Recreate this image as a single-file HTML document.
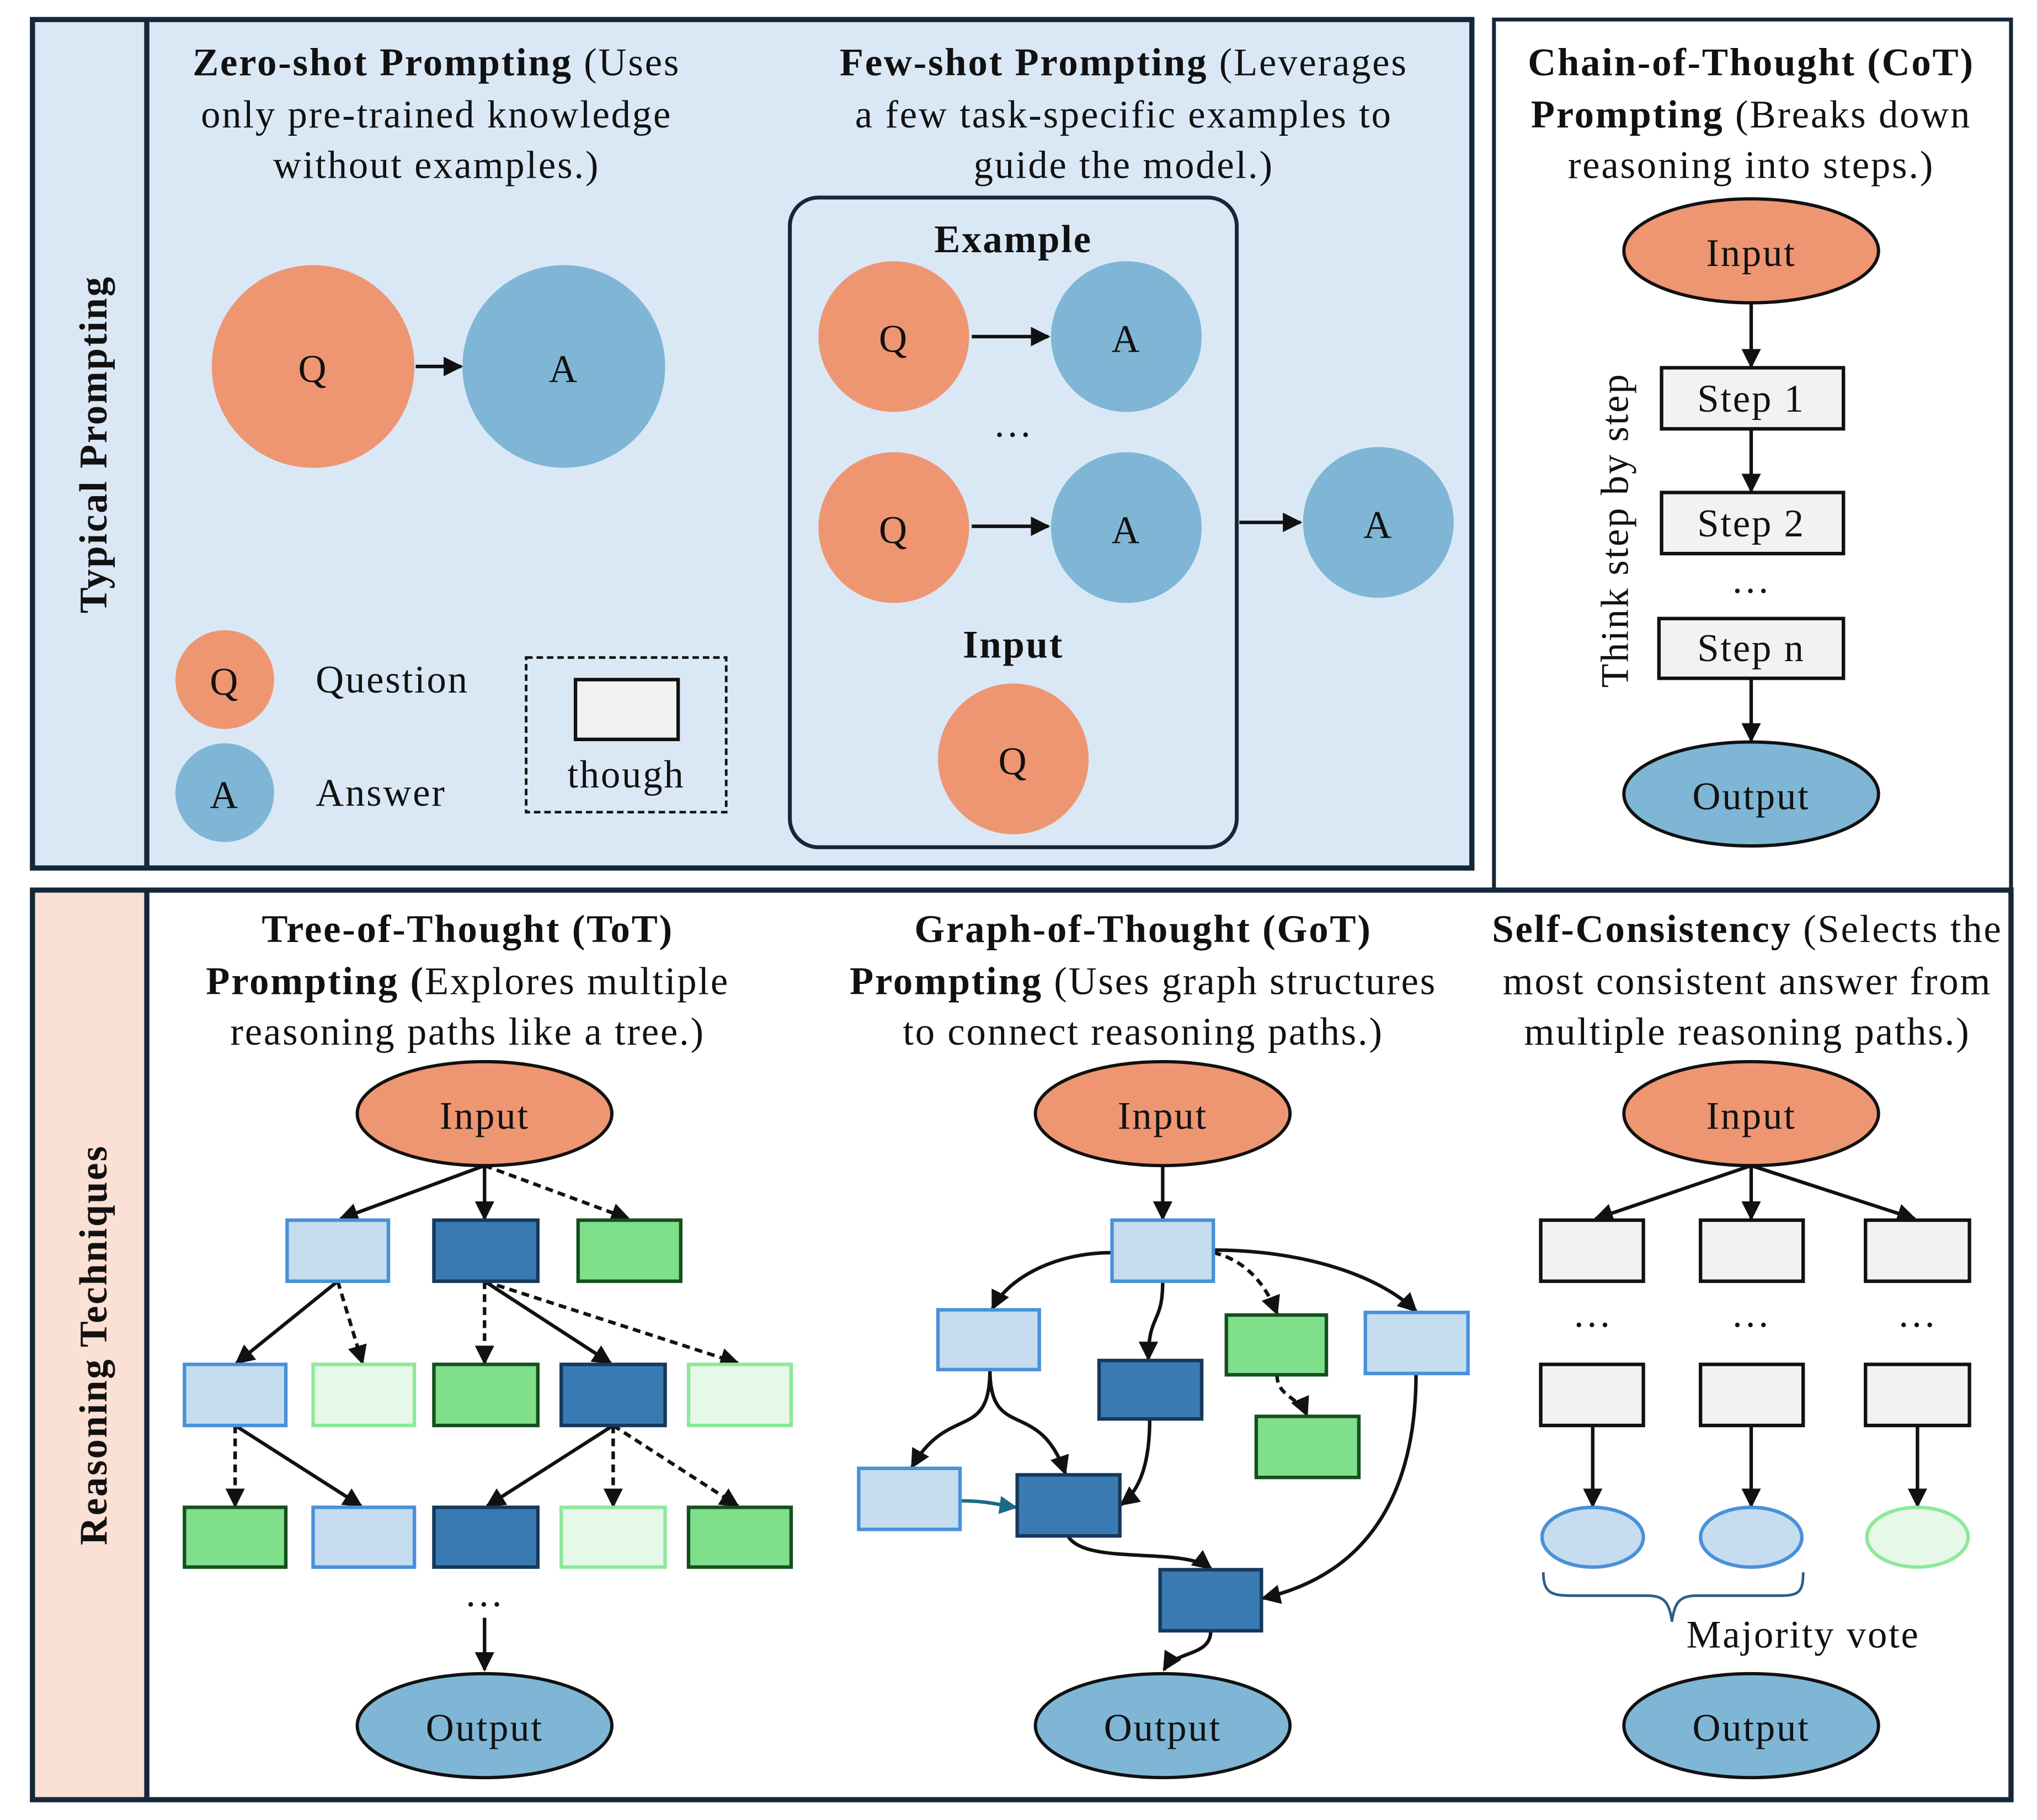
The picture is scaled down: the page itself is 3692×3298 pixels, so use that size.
<!DOCTYPE html>
<html><head><meta charset="utf-8"><style>
html,body{margin:0;padding:0;background:#fff}
svg{display:block}
text{font-family:"Liberation Serif",serif;fill:#111;letter-spacing:1.2px}
.t{font-size:30px;text-anchor:middle}
.b{font-weight:bold}
.n{font-size:30px;text-anchor:middle;dominant-baseline:central}
.e{stroke:#111;stroke-width:2.7;fill:none}
.d{stroke-dasharray:6,4}
.lb{fill:#c5ddef;stroke:#4a90d9;stroke-width:2.7}
.dk{fill:#3a7ab2;stroke:#15395c;stroke-width:2.7}
.gr{fill:#80df8a;stroke:#14501e;stroke-width:2.7}
.vg{fill:#e6f8e8;stroke:#8ee89a;stroke-width:2.7}
.gy{fill:#f2f2f2;stroke:#111;stroke-width:2.7}
</style></head><body>
<svg width="3692" height="3298" viewBox="0 0 1568 1400.6" xmlns="http://www.w3.org/2000/svg">
<defs>
<marker id="at" viewBox="0 0 10 10" refX="9" refY="5" markerWidth="14" markerHeight="14" orient="auto" markerUnits="userSpaceOnUse"><path d="M0,0 L10,5 L0,10 z" fill="#1b6a87"/></marker>
<marker id="k" viewBox="0 0 10 10" refX="9" refY="5" markerWidth="15" markerHeight="15" orient="auto" markerUnits="userSpaceOnUse"><path d="M0,0 L10,5 L0,10 z" fill="#111"/></marker>
</defs>
<rect width="1568" height="1401" fill="#fff"/>
<rect x="25" y="15" width="1108" height="653" fill="#dae8f6" stroke="#15283a" stroke-width="4"/>
<line x1="113" y1="15" x2="113" y2="668" stroke="#15283a" stroke-width="4"/>
<polyline points="25,685 1150,685 1150,15 1548,15 1548,685" fill="none" stroke="#15283a" stroke-width="3"/>
<rect x="25" y="685" width="1523" height="700" fill="#fff" stroke="#15283a" stroke-width="4"/>
<rect x="27" y="687" width="86" height="696" fill="#fbe0d5"/>
<line x1="113" y1="685" x2="113" y2="1385" stroke="#15283a" stroke-width="4"/>
<text class="t b" transform="translate(82,342) rotate(-90)">Typical Prompting</text>
<text class="t b" transform="translate(82,1035) rotate(-90)">Reasoning Techniques</text>

<text class="t"><tspan x="336" y="58"><tspan class="b">Zero-shot Prompting</tspan> (Uses</tspan><tspan x="336" y="98">only pre-trained knowledge</tspan><tspan x="336" y="137">without examples.)</tspan></text>
<circle cx="241" cy="282" r="78" fill="#ee9672"/><text class="n" x="241" y="284">Q</text>
<circle cx="434" cy="282" r="78" fill="#7fb6d5"/><text class="n" x="434" y="284">A</text>
<line class="e" x1="320" y1="282" x2="355" y2="282" marker-end="url(#k)"/>
<text class="t"><tspan x="865" y="58"><tspan class="b">Few-shot Prompting</tspan> (Leverages</tspan><tspan x="865" y="98">a few task-specific examples to</tspan><tspan x="865" y="137">guide the model.)</tspan></text>
<rect x="608" y="152" width="344" height="500" rx="22" fill="none" stroke="#15283a" stroke-width="3"/>
<text class="t b" x="780" y="194">Example</text>
<circle cx="688" cy="259" r="58" fill="#ee9672"/><text class="n" x="688" y="261">Q</text>
<circle cx="867" cy="259" r="58" fill="#7fb6d5"/><text class="n" x="867" y="261">A</text>
<line class="e" x1="748" y1="259" x2="807" y2="259" marker-end="url(#k)"/>
<text class="t" x="780" y="336">…</text>
<circle cx="688" cy="406" r="58" fill="#ee9672"/><text class="n" x="688" y="408">Q</text>
<circle cx="867" cy="406" r="58" fill="#7fb6d5"/><text class="n" x="867" y="408">A</text>
<line class="e" x1="748" y1="405" x2="807" y2="405" marker-end="url(#k)"/>
<circle cx="1061" cy="402" r="58" fill="#7fb6d5"/><text class="n" x="1061" y="404">A</text>
<line class="e" x1="954" y1="402" x2="1001" y2="402" marker-end="url(#k)"/>
<text class="t b" x="780" y="506">Input</text>
<circle cx="780" cy="584" r="58" fill="#ee9672"/><text class="n" x="780" y="586">Q</text>
<circle cx="173" cy="523" r="38" fill="#ee9672"/><text class="n" x="173" y="525">Q</text>
<text x="243" y="533" style="font-size:30px">Question</text>
<circle cx="173" cy="610" r="38" fill="#7fb6d5"/><text class="n" x="173" y="612">A</text>
<text x="243" y="620" style="font-size:30px">Answer</text>
<rect x="405" y="506" width="154" height="119" fill="none" stroke="#111" stroke-width="2" stroke-dasharray="5,3"/>
<rect x="443" y="523" width="79" height="46" class="gy"/>
<text class="t" x="482" y="606">though</text>

<text class="t"><tspan x="1348" y="58" class="b">Chain-of-Thought (CoT)</tspan><tspan x="1348" y="98"><tspan class="b">Prompting</tspan> (Breaks down</tspan><tspan x="1348" y="137">reasoning into steps.)</tspan></text>
<ellipse cx="1348" cy="193" rx="98" ry="40" fill="#ee9672" stroke="#111" stroke-width="2.5"/><text class="n" x="1348" y="195">Input</text>
<line class="e" x1="1348" y1="233" x2="1348" y2="282" marker-end="url(#k)"/>
<rect x="1279" y="283" width="140" height="47" class="gy"/><text class="n" x="1348" y="307">Step 1</text>
<line class="e" x1="1348" y1="330" x2="1348" y2="378" marker-end="url(#k)"/>
<rect x="1279" y="379" width="140" height="47" class="gy"/><text class="n" x="1348" y="403">Step 2</text>
<text class="t" x="1348" y="456">…</text>
<rect x="1277" y="476" width="142" height="46" class="gy"/><text class="n" x="1348" y="499">Step n</text>
<line class="e" x1="1348" y1="522" x2="1348" y2="570" marker-end="url(#k)"/>
<ellipse cx="1348" cy="611" rx="98" ry="40" fill="#7fb6d5" stroke="#111" stroke-width="2.5"/><text class="n" x="1348" y="613">Output</text>
<text class="t" transform="translate(1253,408) rotate(-90)">Think step by step</text>

<text class="t"><tspan x="360" y="725" class="b">Tree-of-Thought (ToT)</tspan><tspan x="360" y="765"><tspan class="b">Prompting (</tspan>Explores multiple</tspan><tspan x="360" y="804">reasoning paths like a tree.)</tspan></text>
<ellipse cx="373" cy="857" rx="98" ry="40" fill="#ee9672" stroke="#111" stroke-width="2.5"/><text class="n" x="373" y="859">Input</text>
<line class="e" x1="373" y1="897" x2="262" y2="938" marker-end="url(#k)"/>
<line class="e" x1="373" y1="897" x2="373" y2="938" marker-end="url(#k)"/>
<line class="e d" x1="373" y1="897" x2="484" y2="938" marker-end="url(#k)"/>
<line class="e" x1="260" y1="986" x2="182" y2="1049" marker-end="url(#k)"/>
<line class="e d" x1="260" y1="986" x2="279" y2="1049" marker-end="url(#k)"/>
<line class="e d" x1="373" y1="986" x2="373" y2="1049" marker-end="url(#k)"/>
<line class="e" x1="373" y1="986" x2="470" y2="1049" marker-end="url(#k)"/>
<line class="e d" x1="373" y1="986" x2="568" y2="1049" marker-end="url(#k)"/>
<line class="e d" x1="181" y1="1097" x2="181" y2="1159" marker-end="url(#k)"/>
<line class="e" x1="181" y1="1097" x2="278" y2="1159" marker-end="url(#k)"/>
<line class="e" x1="472" y1="1097" x2="375" y2="1159" marker-end="url(#k)"/>
<line class="e d" x1="472" y1="1097" x2="472" y2="1159" marker-end="url(#k)"/>
<line class="e d" x1="472" y1="1097" x2="568" y2="1159" marker-end="url(#k)"/>
<rect x="221" y="939" width="78" height="47" class="lb"/><rect x="334" y="939" width="80" height="47" class="dk"/><rect x="445" y="939" width="79" height="47" class="gr"/>
<rect x="142" y="1050" width="78" height="47" class="lb"/><rect x="241" y="1050" width="78" height="47" class="vg"/><rect x="334" y="1050" width="80" height="47" class="gr"/><rect x="432" y="1050" width="80" height="47" class="dk"/><rect x="530" y="1050" width="79" height="47" class="vg"/>
<rect x="142" y="1160" width="78" height="46" class="gr"/><rect x="241" y="1160" width="78" height="46" class="lb"/><rect x="334" y="1160" width="80" height="46" class="dk"/><rect x="432" y="1160" width="80" height="46" class="vg"/><rect x="530" y="1160" width="79" height="46" class="gr"/>
<text class="t" x="373" y="1236">…</text>
<line class="e" x1="373" y1="1245" x2="373" y2="1285" marker-end="url(#k)"/>
<ellipse cx="373" cy="1328" rx="98" ry="40" fill="#7fb6d5" stroke="#111" stroke-width="2.5"/><text class="n" x="373" y="1330">Output</text>

<text class="t"><tspan x="880" y="725" class="b">Graph-of-Thought (GoT)</tspan><tspan x="880" y="765"><tspan class="b">Prompting</tspan> (Uses graph structures</tspan><tspan x="880" y="804">to connect reasoning paths.)</tspan></text>
<ellipse cx="895" cy="857" rx="98" ry="40" fill="#ee9672" stroke="#111" stroke-width="2.5"/><text class="n" x="895" y="859">Input</text>
<line class="e" x1="895" y1="897" x2="895" y2="938" marker-end="url(#k)"/>
<path class="e" d="M856,964 C810,964 775,985 764,1007" marker-end="url(#k)"/>
<path class="e" d="M895,986 C895,1020 884,1010 884,1046" marker-end="url(#k)"/>
<path class="e d" d="M934,964 C960,970 975,990 983,1011" marker-end="url(#k)"/>
<path class="e" d="M934,962 C1000,962 1060,980 1090,1009" marker-end="url(#k)"/>
<path class="e d" d="M983,1058 C983,1075 1000,1075 1006,1089" marker-end="url(#k)"/>
<path class="e" d="M762,1054 C762,1110 730,1080 702,1129" marker-end="url(#k)"/>
<path class="e" d="M762,1054 C762,1110 800,1075 820,1134" marker-end="url(#k)"/>
<path class="e" d="M885,1092 C885,1120 880,1145 863,1158" marker-end="url(#k)"/>
<path d="M739,1155 C760,1155 768,1158 782,1160" stroke="#1b6a87" stroke-width="2.7" fill="none" marker-end="url(#at)"/>
<path class="e" d="M822,1182 C835,1205 910,1190 932,1207" marker-end="url(#k)"/>
<path class="e" d="M1090,1057 C1090,1140 1060,1210 972,1230" marker-end="url(#k)"/>
<path class="e" d="M932,1255 C932,1275 905,1270 896,1285" marker-end="url(#k)"/>
<rect x="856" y="939" width="78" height="47" class="lb"/>
<rect x="722" y="1008" width="78" height="46" class="lb"/>
<rect x="846" y="1047" width="79" height="45" class="dk"/>
<rect x="944" y="1012" width="77" height="46" class="gr"/>
<rect x="1051" y="1010" width="79" height="47" class="lb"/>
<rect x="967" y="1090" width="79" height="47" class="gr"/>
<rect x="661" y="1130" width="78" height="47" class="lb"/>
<rect x="783" y="1135" width="79" height="47" class="dk"/>
<rect x="893" y="1208" width="78" height="47" class="dk"/>
<ellipse cx="895" cy="1328" rx="98" ry="40" fill="#7fb6d5" stroke="#111" stroke-width="2.5"/><text class="n" x="895" y="1330">Output</text>

<text class="t"><tspan x="1345" y="725"><tspan class="b">Self-Consistency</tspan> (Selects the</tspan><tspan x="1345" y="765">most consistent answer from</tspan><tspan x="1345" y="804">multiple reasoning paths.)</tspan></text>
<ellipse cx="1348" cy="857" rx="98" ry="40" fill="#ee9672" stroke="#111" stroke-width="2.5"/><text class="n" x="1348" y="859">Input</text>
<line class="e" x1="1348" y1="897" x2="1228" y2="938" marker-end="url(#k)"/>
<line class="e" x1="1348" y1="897" x2="1348" y2="938" marker-end="url(#k)"/>
<line class="e" x1="1348" y1="897" x2="1474" y2="938" marker-end="url(#k)"/>
<rect x="1186" y="939" width="79" height="47" class="gy"/><rect x="1309" y="939" width="79" height="47" class="gy"/><rect x="1436" y="939" width="80" height="47" class="gy"/>
<text class="t" x="1226" y="1021">…</text><text class="t" x="1348" y="1021">…</text><text class="t" x="1476" y="1021">…</text>
<rect x="1186" y="1050" width="79" height="47" class="gy"/><rect x="1309" y="1050" width="79" height="47" class="gy"/><rect x="1436" y="1050" width="80" height="47" class="gy"/>
<line class="e" x1="1226" y1="1097" x2="1226" y2="1159" marker-end="url(#k)"/>
<line class="e" x1="1348" y1="1097" x2="1348" y2="1159" marker-end="url(#k)"/>
<line class="e" x1="1476" y1="1097" x2="1476" y2="1159" marker-end="url(#k)"/>
<ellipse cx="1226" cy="1183" rx="39" ry="23" class="lb"/>
<ellipse cx="1348" cy="1183" rx="39" ry="23" class="lb"/>
<ellipse cx="1476" cy="1183" rx="39" ry="23" class="vg"/>
<path d="M1188,1210 C1188,1228 1196,1228 1215,1228 L1268,1228 C1280,1228 1285,1232 1287,1248 C1289,1232 1294,1228 1306,1228 L1370,1228 C1385,1228 1388,1225 1388,1210" fill="none" stroke="#2a5d8a" stroke-width="2"/>
<text class="t" x="1388" y="1268">Majority vote</text>
<ellipse cx="1348" cy="1328" rx="98" ry="40" fill="#7fb6d5" stroke="#111" stroke-width="2.5"/><text class="n" x="1348" y="1330">Output</text>
</svg>
</body></html>
